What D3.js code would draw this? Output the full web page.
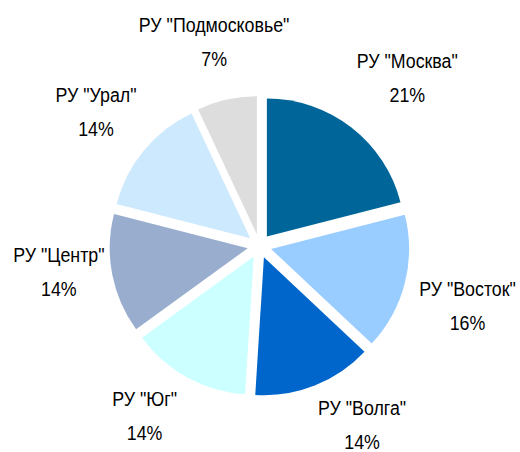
<!DOCTYPE html>
<html>
<head>
<meta charset="utf-8">
<script src="https://cdn.jsdelivr.net/npm/d3@7"></script>
<style>
  body { margin: 0; background: #fff; }
  svg text { font-family: "Liberation Sans", Arial, sans-serif; font-size: 20px; fill: #000; }
</style>
</head>
<body>
<svg id="chart" width="520" height="452"></svg>
<script>
// данные диаграммы
const regions = ["РУ \"Москва\"", "РУ \"Восток\"", "РУ \"Волга\"", "РУ \"Юг\"", "РУ \"Центр\"", "РУ \"Урал\"", "РУ \"Подмосковье\""];
const shares = [21, 16, 14, 14, 14, 14, 7];
const colors = ["#006699", "#99ccff", "#0066cc", "#ccffff", "#99aecf", "#cce9fd", "#dddddd"];

const width = 520, height = 452;
const cx = 259.5, cy = 246;
const radius = 138;
const explode = 12; // смещение секторов
const squeeze = 0.89; // шрифт в оригинале узкий

const svg = d3.select("#chart");
const g = svg.append("g").attr("transform", `translate(${cx},${cy})`);

const pie = d3.pie().sort(null).value(d => d.value);
const arc = d3.arc().innerRadius(0).outerRadius(radius);

const data = pie(regions.map((r, i) => ({ name: r, value: shares[i], color: colors[i] })));

g.selectAll("path")
  .data(data)
  .enter().append("path")
  .attr("d", arc)
  .attr("fill", d => d.data.color)
  .attr("transform", d => {
    const a = (d.startAngle + d.endAngle) / 2;
    return `translate(${Math.sin(a) * explode},${-Math.cos(a) * explode})`;
  });

// подписи снаружи круга
const labelR = 170;
const k = 1.6;
const clamp = v => Math.max(-1, Math.min(1, v));
// небольшие сдвиги подписей, как их раскладывает Excel
const labelNudge = [[-6, -9], [-5, 8], [14, -4], [-8, -4], [12, -13], [8, -1], [18, -13]];

const label = g.selectAll(".lbl")
  .data(data)
  .enter().append("g")
  .attr("class", "lbl");

label.append("text")
  .attr("text-anchor", "middle")
  .attr("y", -10)
  .text(d => d.data.name);

label.append("text")
  .attr("text-anchor", "middle")
  .attr("y", 24)
  .text(d => d.data.value + "%");

label.attr("transform", function (d, i) {
  const a = (d.startAngle + d.endAngle) / 2;
  const ux = Math.sin(a), uy = -Math.cos(a);
  const w = squeeze * d3.max(d3.select(this).selectAll("text").nodes(), n => n.getComputedTextLength());
  const h = 50;
  const x = ux * labelR + (w / 2) * clamp(ux * k) + labelNudge[i][0];
  const y = uy * labelR + (h / 2) * clamp(uy * k) + labelNudge[i][1];
  return `translate(${x},${y}) scale(${squeeze},1)`;
});
</script>
</body>
</html>
